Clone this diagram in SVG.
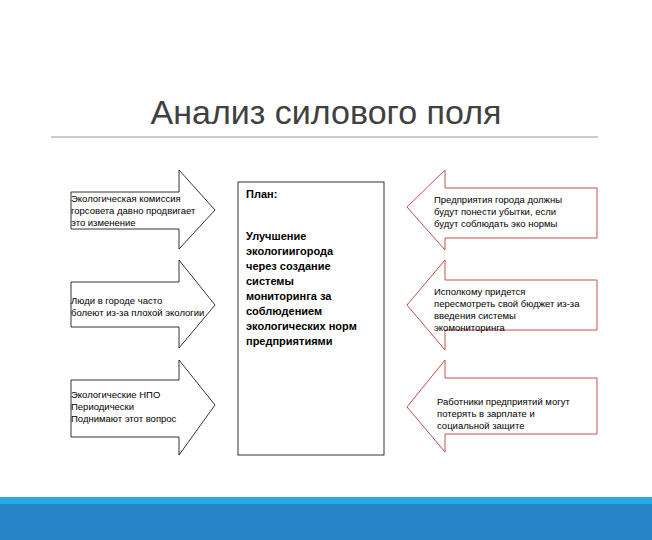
<svg xmlns="http://www.w3.org/2000/svg" width="652" height="540" viewBox="0 0 652 540">
<style>
.t{font-family:"Liberation Sans",Arial,sans-serif;font-size:9.5px;fill:#000}
.b{font-family:"Liberation Sans",Arial,sans-serif;font-size:11px;font-weight:bold;fill:#000}
.la{fill:#fff;stroke:#000;stroke-width:0.8}
.ra{fill:#fff;stroke:#c0504d;stroke-width:1}
</style>
<rect width="652" height="540" fill="#fff"/>
<text x="326" y="124" text-anchor="middle" font-family="Liberation Sans,Arial,sans-serif" font-size="34" fill="#404040">Анализ силового поля</text>
<line x1="51" y1="137" x2="598" y2="137" stroke="#999" stroke-width="1"/>
<rect x="0" y="497" width="652" height="8" fill="#27aae1"/>
<rect x="0" y="504" width="652" height="36" fill="#2683c6"/>
<g id="l1"><path class="la" d="M71 192H179V170L215 210L179 249V229H71Z"/>
<text class="t" x="71" y="202">Экологическая комиссия</text><text class="t" x="71" y="214">горсовета давно продвигает</text><text class="t" x="71" y="226">это изменение</text></g>
<g id="l2"><path class="la" d="M71 282H179V260L215 305L179 348V327H71Z"/>
<text class="t" x="71" y="304">Люди в городе часто</text><text class="t" x="71" y="316">болеют из-за плохой экологии</text></g>
<g id="l3"><path class="la" d="M71 380H179V360L215 405L179 455V437H71Z"/>
<text class="t" x="71" y="398">Экологические НПО</text><text class="t" x="71" y="410">Периодически</text><text class="t" x="71" y="422">Поднимают этот вопрос</text></g>
<g id="plan"><rect x="238" y="182" width="146" height="273" fill="#fff" stroke="#000" stroke-width="0.8"/>
<text class="b" x="246" y="198">План:</text>
<text class="b" x="246" y="240">Улучшение</text><text class="b" x="246" y="255">экологиигорода</text><text class="b" x="246" y="270">через создание</text><text class="b" x="246" y="285">системы</text><text class="b" x="246" y="300">мониторинга за</text><text class="b" x="246" y="315">соблюдением</text><text class="b" x="246" y="330">экологических норм</text><text class="b" x="246" y="345">предприятиями</text></g>
<g id="r1"><path class="ra" d="M597 188H445V170L407 207L445 250V238H597Z"/>
<text class="t" x="434" y="203">Предприятия города должны</text><text class="t" x="434" y="215">будут понести убытки, если</text><text class="t" x="434" y="227">будут соблюдать эко нормы</text></g>
<g id="r2"><path class="ra" d="M597 280H445V260L407 305L445 350V330H597Z"/>
<text class="t" x="434" y="295">Исполкому придется</text><text class="t" x="434" y="307">пересмотреть свой бюджет из-за</text><text class="t" x="434" y="319">введения системы</text><text class="t" x="434" y="331">экомониторинга</text></g>
<g id="r3"><path class="ra" d="M597 378H445V360L407 407L445 452V434H597Z"/>
<text class="t" x="437" y="405">Работники предприятий могут</text><text class="t" x="437" y="417">потерять в зарплате и</text><text class="t" x="437" y="429">социальной защите</text></g>
</svg>
